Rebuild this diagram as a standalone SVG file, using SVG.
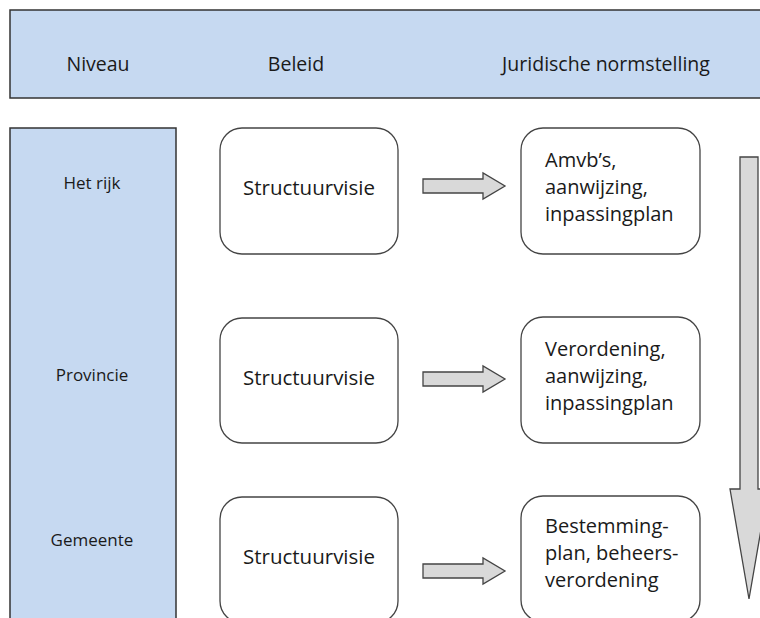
<svg xmlns="http://www.w3.org/2000/svg" width="760" height="618" viewBox="0 0 760 618">
<defs>
<style>
.band{fill:#C6D9F1;stroke:#333;stroke-width:1.5}
.box{fill:#fff;stroke:#444;stroke-width:1.3}
.arr{fill:#D9D9D9;stroke:#444;stroke-width:1.3;stroke-linejoin:miter}
text{font-family:"Open Sans","Liberation Sans",sans-serif;fill:#1a1a1a}
.h{font-size:19.5px;text-anchor:middle}
.lv{font-size:17px;text-anchor:middle}
.b{font-size:20.5px;text-anchor:middle}
.j{font-size:20px}
</style>
</defs>
<rect width="760" height="618" fill="#fff"/>
<g id="header">
<rect class="band" x="10" y="10" width="760" height="88"/>
<text class="h" x="98" y="71">Niveau</text>
<text class="h" x="296" y="71">Beleid</text>
<text class="h" x="606" y="71">Juridische normstelling</text>
</g>
<g id="niveau">
<rect class="band" x="10" y="128" width="166" height="500"/>
<text class="lv" x="92" y="189">Het rijk</text>
<text class="lv" x="92" y="381">Provincie</text>
<text class="lv" x="92" y="546">Gemeente</text>
</g>
<g id="beleid-rijk">
<rect class="box" x="220" y="128" width="178" height="126" rx="22"/>
<text class="b" x="309" y="195">Structuurvisie</text>
</g>
<g id="beleid-provincie">
<rect class="box" x="220" y="318" width="178" height="125" rx="22"/>
<text class="b" x="309" y="385">Structuurvisie</text>
</g>
<g id="beleid-gemeente">
<rect class="box" x="220" y="497" width="178" height="126" rx="22"/>
<text class="b" x="309" y="564">Structuurvisie</text>
</g>
<g id="norm-rijk">
<rect class="box" x="521" y="128" width="179" height="126" rx="22"/>
<text class="j" x="545" y="167">Amvb’s,</text>
<text class="j" x="545" y="194">aanwijzing,</text>
<text class="j" x="545" y="221">inpassingplan</text>
</g>
<g id="norm-provincie">
<rect class="box" x="521" y="317" width="179" height="126" rx="22"/>
<text class="j" x="545" y="356">Verordening,</text>
<text class="j" x="545" y="383">aanwijzing,</text>
<text class="j" x="545" y="410">inpassingplan</text>
</g>
<g id="norm-gemeente">
<rect class="box" x="521" y="496" width="179" height="126" rx="22"/>
<text class="j" x="545" y="533">Bestemming-</text>
<text class="j" x="545" y="560">plan, beheers-</text>
<text class="j" x="545" y="587">verordening</text>
</g>
<g id="connectors">
<path class="arr" d="M423,179 H483 V173 L505,186 L483,199 V193 H423 Z"/>
<path class="arr" d="M423,372 H483 V366 L505,379 L483,392 V386 H423 Z"/>
<path class="arr" d="M423,564 H483 V558 L505,571 L483,584 V578 H423 Z"/>
<path class="arr" d="M740,157 H758 V489 H768 L749,599 L730,489 H740 Z"/>
</g>
</svg>
